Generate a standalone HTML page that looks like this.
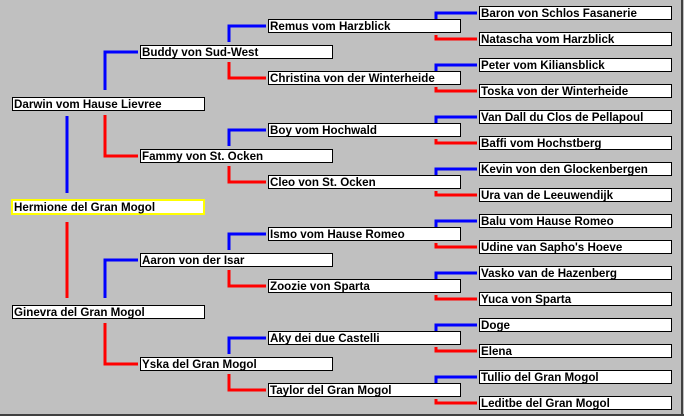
<!DOCTYPE html>
<html><head><style>
html,body{margin:0;padding:0;background:#c0c0c0;}
svg{display:block}
text{font-family:"Liberation Sans",Arial,sans-serif;font-weight:bold;font-size:11.6px;fill:#000}
</style></head><body>
<svg width="684" height="416" viewBox="0 0 684 416" xmlns="http://www.w3.org/2000/svg">
<rect x="0" y="0" width="684" height="416" fill="#c0c0c0"/>
<line x1="682" y1="0" x2="682" y2="416" stroke="#404040" stroke-width="2"/>
<line x1="0" y1="415" x2="684" y2="415" stroke="#404040" stroke-width="2"/>
<g fill="none" stroke-width="3">
<path d="M105,90 V52 H138" stroke="#0000ff"/>
<path d="M105,115 V156 H138" stroke="#ff0000"/>
<path d="M105,298 V260 H138" stroke="#0000ff"/>
<path d="M105,323 V364 H138" stroke="#ff0000"/>
<path d="M67,116 V193" stroke="#0000ff"/>
<path d="M67,222 V298" stroke="#ff0000"/>
<path d="M229,42 V26 H266" stroke="#0000ff"/><path d="M229,62 V78 H266" stroke="#ff0000"/>
<path d="M229,146 V130 H266" stroke="#0000ff"/><path d="M229,166 V182 H266" stroke="#ff0000"/>
<path d="M229,250 V234 H266" stroke="#0000ff"/><path d="M229,270 V286 H266" stroke="#ff0000"/>
<path d="M229,354 V338 H266" stroke="#0000ff"/><path d="M229,374 V390 H266" stroke="#ff0000"/>
<path d="M436,22 V13 H477" stroke="#0000ff"/><path d="M436,35 V39 H477" stroke="#ff0000"/>
<path d="M436,74 V65 H477" stroke="#0000ff"/><path d="M436,87 V91 H477" stroke="#ff0000"/>
<path d="M436,126 V117 H477" stroke="#0000ff"/><path d="M436,139 V143 H477" stroke="#ff0000"/>
<path d="M436,178 V169 H477" stroke="#0000ff"/><path d="M436,191 V195 H477" stroke="#ff0000"/>
<path d="M436,230 V221 H477" stroke="#0000ff"/><path d="M436,243 V247 H477" stroke="#ff0000"/>
<path d="M436,282 V273 H477" stroke="#0000ff"/><path d="M436,295 V299 H477" stroke="#ff0000"/>
<path d="M436,334 V325 H477" stroke="#0000ff"/><path d="M436,347 V351 H477" stroke="#ff0000"/>
<path d="M436,386 V377 H477" stroke="#0000ff"/><path d="M436,399 V403 H477" stroke="#ff0000"/>
</g>
<g fill="#fff" stroke="#000" stroke-width="1">
<rect x="12.5" y="97.5" width="192" height="13"/>
<rect x="12.5" y="305.5" width="192" height="13"/>
<rect x="140.5" y="45.5" width="192" height="13"/>
<rect x="140.5" y="149.5" width="192" height="13"/>
<rect x="140.5" y="253.5" width="192" height="13"/>
<rect x="140.5" y="357.5" width="192" height="13"/>
<rect x="268.5" y="19.5" width="192" height="13"/>
<rect x="268.5" y="71.5" width="192" height="13"/>
<rect x="268.5" y="123.5" width="192" height="13"/>
<rect x="268.5" y="175.5" width="192" height="13"/>
<rect x="268.5" y="227.5" width="192" height="13"/>
<rect x="268.5" y="279.5" width="192" height="13"/>
<rect x="268.5" y="331.5" width="192" height="13"/>
<rect x="268.5" y="383.5" width="192" height="13"/>
<rect x="479.5" y="6.5" width="192" height="13"/>
<rect x="479.5" y="32.5" width="192" height="13"/>
<rect x="479.5" y="58.5" width="192" height="13"/>
<rect x="479.5" y="84.5" width="192" height="13"/>
<rect x="479.5" y="110.5" width="192" height="13"/>
<rect x="479.5" y="136.5" width="192" height="13"/>
<rect x="479.5" y="162.5" width="192" height="13"/>
<rect x="479.5" y="188.5" width="192" height="13"/>
<rect x="479.5" y="214.5" width="192" height="13"/>
<rect x="479.5" y="240.5" width="192" height="13"/>
<rect x="479.5" y="266.5" width="192" height="13"/>
<rect x="479.5" y="292.5" width="192" height="13"/>
<rect x="479.5" y="318.5" width="192" height="13"/>
<rect x="479.5" y="344.5" width="192" height="13"/>
<rect x="479.5" y="370.5" width="192" height="13"/>
<rect x="479.5" y="396.5" width="192" height="13"/>
</g>
<rect x="12" y="200" width="192" height="14" fill="#fff" stroke="#ffff00" stroke-width="2"/>
<text x="14" y="108">Darwin vom Hause Lievree</text>
<text x="14" y="211">Hermione del Gran Mogol</text>
<text x="14" y="316">Ginevra del Gran Mogol</text>
<text x="142" y="56">Buddy von Sud-West</text>
<text x="142" y="160">Fammy von St. Ocken</text>
<text x="142" y="264">Aaron von der Isar</text>
<text x="142" y="368">Yska del Gran Mogol</text>
<text x="270" y="30">Remus vom Harzblick</text>
<text x="270" y="82">Christina von der Winterheide</text>
<text x="270" y="134">Boy vom Hochwald</text>
<text x="270" y="186">Cleo von St. Ocken</text>
<text x="270" y="238">Ismo vom Hause Romeo</text>
<text x="270" y="290">Zoozie von Sparta</text>
<text x="270" y="342">Aky dei due Castelli</text>
<text x="270" y="394">Taylor del Gran Mogol</text>
<text x="481" y="17">Baron von Schlos Fasanerie</text>
<text x="481" y="43">Natascha vom Harzblick</text>
<text x="481" y="69">Peter vom Kiliansblick</text>
<text x="481" y="95">Toska von der Winterheide</text>
<text x="481" y="121">Van Dall du Clos de Pellapoul</text>
<text x="481" y="147">Baffi vom Hochstberg</text>
<text x="481" y="173">Kevin von den Glockenbergen</text>
<text x="481" y="199">Ura van de Leeuwendijk</text>
<text x="481" y="225">Balu vom Hause Romeo</text>
<text x="481" y="251">Udine van Sapho's Hoeve</text>
<text x="481" y="277">Vasko van de Hazenberg</text>
<text x="481" y="303">Yuca von Sparta</text>
<text x="481" y="329">Doge</text>
<text x="481" y="355">Elena</text>
<text x="481" y="381">Tullio del Gran Mogol</text>
<text x="481" y="407">Leditbe del Gran Mogol</text>
</svg>
</body></html>
